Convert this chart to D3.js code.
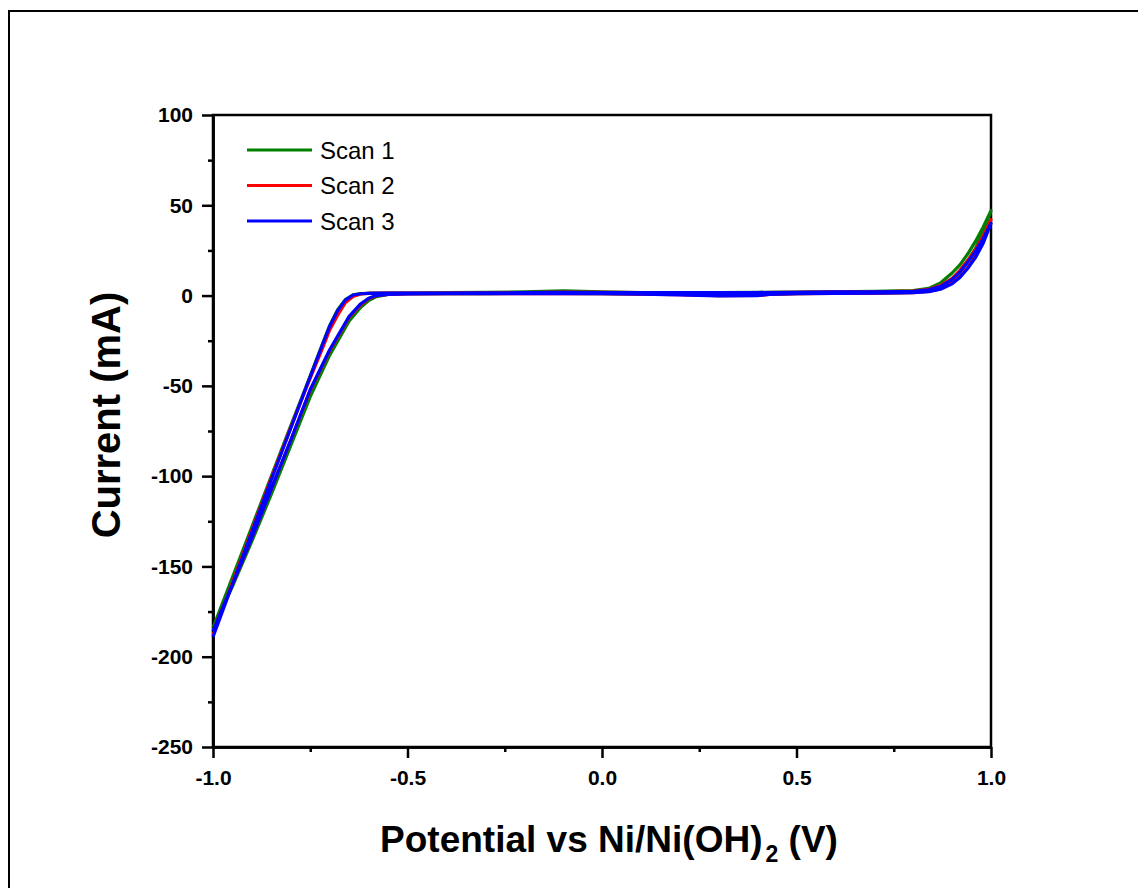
<!DOCTYPE html>
<html>
<head>
<meta charset="utf-8">
<script src="https://cdn.jsdelivr.net/npm/d3@7"></script>
<style>
  body { margin: 0; background: #fff; }
  text { font-family: "Liberation Sans", Arial, sans-serif; }
  .axis path, .axis line { stroke: #000; stroke-width: 2.5; }
  .axis text { font-size: 21px; font-weight: bold; fill: #000; }
</style>
</head>
<body>
<div id="chart"></div>
<script>
// potential grid for the sweep going up (-1 -> 1) and coming back (1 -> -1)
var potentialUp = [-1.0, -0.95, -0.9, -0.85, -0.8, -0.76, -0.72, -0.70, -0.68, -0.66, -0.64, -0.62, -0.60, -0.55, -0.5,
  -0.4, -0.3, -0.2, -0.1, 0, 0.1, 0.2, 0.3, 0.4, 0.5, 0.6, 0.7, 0.8, 0.84, 0.87, 0.9, 0.92, 0.94, 0.96, 0.98, 1.0]
var potentialDown = [1.0, 0.98, 0.96, 0.94, 0.92, 0.9, 0.87, 0.84, 0.8, 0.7, 0.6, 0.5, 0.43, 0.4, 0.3, 0.2, 0.1, 0,
  -0.1, -0.2, -0.3, -0.4, -0.5, -0.55, -0.58, -0.6, -0.62, -0.65, -0.7, -0.75, -0.8, -0.85, -0.9, -0.95, -1.0]

// current (mA) per scan
var scan1Up = [-184, -156, -128, -100, -72, -50, -27.5, -16.5, -8, -2.3, 0.4, 1.1, 1.3, 1.4, 1.4,
  1.6, 1.8, 2.0, 2.6, 2.0, 1.7, 1.7, 1.7, 1.8, 1.9, 2.1, 2.3, 2.8, 4, 7, 12.5, 17, 23, 30, 38, 47]
var scan1Down = [47, 35, 26, 19, 13, 8.5, 4.5, 2.6, 1.8, 1.4, 1.3, 1.1, 0.8, 0.3, 0.1, 0.6, 0.9, 1.1,
  1.2, 1.2, 1.1, 1.1, 1.0, 0.6, -0.6, -2.8, -6.5, -14, -33, -56, -83, -110, -136, -161, -184]

var scan2Up = [-188, -159, -130, -101, -73, -51, -30, -19, -11, -4, -0.5, 0.9, 1.2, 1.3, 1.3,
  1.4, 1.5, 1.7, 1.9, 1.8, 1.6, 1.6, 1.6, 1.7, 1.8, 2.0, 2.1, 2.5, 3.4, 5.5, 9.5, 14, 19.5, 25.5, 33, 42]
var scan2Down = [42, 30, 22, 15.5, 10.5, 7, 3.7, 2.3, 1.6, 1.3, 1.2, 1.0, 0.6, 0.1, -0.1, 0.5, 0.8, 1.0,
  1.1, 1.1, 1.0, 1.0, 0.9, 0.7, -0.1, -1.8, -5, -12, -30.5, -52.5, -80, -107, -134, -160, -186]

var scan3Up = [-189, -160, -131, -102, -73.5, -50.5, -28, -17, -8.5, -2.5, 0.3, 1.0, 1.2, 1.3, 1.3,
  1.4, 1.5, 1.6, 1.8, 1.7, 1.6, 1.6, 1.6, 1.7, 1.8, 2.0, 2.1, 2.4, 3.2, 5, 9, 13, 18.5, 24.5, 31.5, 40]
var scan3Down = [40, 29, 21, 15, 10, 6.5, 3.5, 2.2, 1.6, 1.3, 1.2, 1.0, 0.6, 0.0, -0.2, 0.4, 0.8, 1.0,
  1.1, 1.1, 1.0, 1.0, 0.9, 0.7, 0, -1.5, -4.5, -11.5, -30, -52, -80, -107, -134, -160, -186]

var scanNames = ["Scan 1", "Scan 2", "Scan 3"]
var scanColors = ["#008000", "#ff0000", "#0000ff"]

var xTicks = [-1.0, -0.5, 0.0, 0.5, 1.0]
var xMinorTicks = [-0.75, -0.25, 0.25, 0.75]
var yTicks = [-250, -200, -150, -100, -50, 0, 50, 100]
var yMinorTicks = [-225, -175, -125, -75, -25, 25, 75]

function buildLoop(up, down) {
  var pts = potentialUp.map(function(e, i) { return [e, up[i]] })
  return pts.concat(potentialDown.map(function(e, i) { return [e, down[i]] }))
}

var scans = [
  buildLoop(scan1Up, scan1Down),
  buildLoop(scan2Up, scan2Down),
  buildLoop(scan3Up, scan3Down)
]

// plain hyphen instead of the unicode minus d3 uses
function hyphen(fmt) {
  return function(d) { return fmt(d).replace("\u2212", "-") }
}

var width = 1138
var height = 888
var margin = {top: 115, right: 147, bottom: 141, left: 213}
var plotW = width - margin.left - margin.right
var plotH = height - margin.top - margin.bottom

var svg = d3.select("#chart")
    .append("svg")
    .attr("width", width)
    .attr("height", height)

// outer frame
svg.append("rect")
    .attr("x", 9)
    .attr("y", 11)
    .attr("width", width + 20)
    .attr("height", height + 20)
    .attr("fill", "none")
    .attr("stroke", "#000")
    .attr("stroke-width", 2)

var g = svg.append("g")
    .attr("transform", "translate(" + margin.left + "," + margin.top + ")")

var xScale = d3.scaleLinear().domain([-1, 1]).range([0, plotW])
var yScale = d3.scaleLinear().domain([-250, 100]).range([plotH, 0])

// minor ticks
g.append("g")
    .attr("class", "axis")
    .attr("transform", "translate(0," + plotH + ")")
    .call(d3.axisBottom(xScale).tickValues(xMinorTicks).tickSize(5).tickSizeOuter(0).tickFormat(""))
g.append("g")
    .attr("class", "axis")
    .call(d3.axisLeft(yScale).tickValues(yMinorTicks).tickSize(5).tickSizeOuter(0).tickFormat(""))

// major ticks with labels
g.append("g")
    .attr("class", "axis")
    .attr("transform", "translate(0," + plotH + ")")
    .call(d3.axisBottom(xScale).tickValues(xTicks).tickSize(11).tickSizeOuter(0).tickPadding(12)
      .tickFormat(hyphen(d3.format(".1f"))))
g.append("g")
    .attr("class", "axis")
    .call(d3.axisLeft(yScale).tickValues(yTicks).tickSize(11).tickSizeOuter(0).tickPadding(9)
      .tickFormat(hyphen(d3.format("d"))))

// plot box (top and right sides)
g.append("rect")
    .attr("width", plotW)
    .attr("height", plotH)
    .attr("fill", "none")
    .attr("stroke", "#000")
    .attr("stroke-width", 2.5)

var line = d3.line()
    .x(function(d) { return xScale(d[0]) })
    .y(function(d) { return yScale(d[1]) })

g.append("g").selectAll("path")
    .data(scans)
    .enter()
    .append("path")
    .attr("d", line)
    .attr("fill", "none")
    .attr("stroke", function(d, i) { return scanColors[i] })
    .attr("stroke-width", 3.2)
    .attr("stroke-linejoin", "round")

// legend
var legend = g.append("g").attr("transform", "translate(34,35)")
scanNames.forEach(function(name, i) {
  legend.append("line")
      .attr("x1", 0).attr("x2", 65)
      .attr("y1", i * 35.5).attr("y2", i * 35.5)
      .attr("stroke", scanColors[i])
      .attr("stroke-width", 3)
  legend.append("text")
      .attr("x", 73)
      .attr("y", i * 35.5)
      .attr("dy", "0.36em")
      .style("font-size", "24px")
      .text(name)
})

// axis titles
svg.append("text")
    .attr("transform", "translate(120,415) rotate(-90)")
    .attr("text-anchor", "middle")
    .style("font-size", "40px")
    .style("font-weight", "bold")
    .text("Current (mA)")

var xt = svg.append("text")
    .attr("x", 609)
    .attr("y", 852)
    .attr("text-anchor", "middle")
    .style("font-size", "37px")
    .style("font-weight", "bold")
xt.append("tspan").text("Potential vs Ni/Ni(OH)")
xt.append("tspan").attr("dx", 3).attr("dy", 10).style("font-size", "23px").text("2")
xt.append("tspan").attr("dy", -10).text(" (V)")
</script>
</body>
</html>
